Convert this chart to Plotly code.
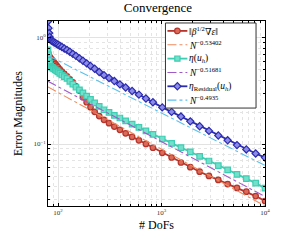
import numpy as np
import plotly.graph_objects as go

# Degrees of freedom (shared by the three estimator series)
dofs = [80, 81, 82, 83, 85, 87, 89, 91, 94, 97, 100, 104, 109, 115, 122, 130, 139, 149,
        161, 174, 189, 206, 226, 250, 278, 311, 350, 396, 450, 520, 605, 707, 826, 1017,
        1252, 1541, 1897, 2335, 2874, 3538, 4355, 5361, 6599, 8123, 10000]

energy_error = [0.691, 0.682, 0.670, 0.660, 0.641, 0.623, 0.605, 0.588, 0.567, 0.547, 0.527,
                0.503, 0.481, 0.457, 0.432, 0.406, 0.381, 0.349, 0.318, 0.276, 0.247, 0.222,
                0.201, 0.183, 0.169, 0.157, 0.146, 0.136, 0.126, 0.1167, 0.1084, 0.1002,
                0.0922, 0.0827, 0.0747, 0.0670, 0.0606, 0.0549, 0.0501, 0.0459, 0.0420,
                0.0386, 0.0356, 0.0324, 0.0291]

eta_est = [0.769, 0.691, 0.613, 0.574, 0.538, 0.526, 0.517, 0.510, 0.499, 0.487, 0.476,
           0.462, 0.446, 0.430, 0.414, 0.389, 0.365, 0.342, 0.323, 0.303, 0.282, 0.263,
           0.2435, 0.226, 0.210, 0.198, 0.186, 0.1756, 0.1654, 0.154, 0.1432, 0.1329,
           0.1234, 0.1115, 0.1013, 0.0924, 0.0845, 0.0765, 0.0692, 0.0626, 0.0572, 0.0518,
           0.0473, 0.0429, 0.0384]

eta_residual = [1.429, 1.230, 1.106, 1.015, 0.952, 0.936, 0.922, 0.908, 0.891, 0.874, 0.859,
                0.839, 0.818, 0.792, 0.767, 0.738, 0.705, 0.675, 0.639, 0.607, 0.574, 0.542,
                0.510, 0.476, 0.444, 0.418, 0.391, 0.364, 0.340, 0.315, 0.291, 0.268, 0.247,
                0.221, 0.2004, 0.1813, 0.1633, 0.147, 0.1329, 0.1202, 0.1084, 0.0977,
                0.0889, 0.0814, 0.0746]

fit_exponents = [-0.53402, -0.51681, -0.4935]
fit_log10_coeff = [0.553, 0.573, 0.772]

x_tickvals = [100, 1000, 10000]
x_ticktext = ["10<sup>2</sup>", "10<sup>3</sup>", "10<sup>4</sup>"]
y_tickvals = [0.1, 1]
y_ticktext = ["10<sup>−1</sup>", "10<sup>0</sup>"]

series_names = ["‖<i>β</i><sup>1/2</sup>∇<i>ε</i>‖",
                "<i>η</i>(<i>u<sub>h</sub></i>)",
                "<i>η</i><sub>Residual</sub>(<i>u<sub>h</sub></i>)"]
fit_names = ["<i>N</i><sup>−0.53402</sup>",
             "<i>N</i><sup>−0.51681</sup>",
             "<i>N</i><sup>−0.4935</sup>"]

line_colors = ["#B5342B", "#3CCDB2", "#2B2BB0"]
fill_colors = ["#DB6A58", "#74E0CC", "#8C8CE6"]
marker_symbols = ["circle", "square", "diamond"]
fit_colors = ["#F08A5D", "#A05AC8", "#5BC0F0"]

fig = go.Figure()
data = [energy_error, eta_est, eta_residual]
N = np.array(dofs, dtype=float)
for i in range(3):
    fig.add_trace(go.Scatter(
        x=dofs, y=data[i], mode="lines+markers", name=series_names[i], showlegend=False,
        line=dict(color=line_colors[i], width=1.8),
        marker=dict(symbol=marker_symbols[i], size=5.5,
                    color=fill_colors[i], line=dict(color=line_colors[i], width=1.2)),
    ))
    Nf = np.array([N[0], N[-1]])
    fig.add_trace(go.Scatter(
        x=Nf, y=10 ** fit_log10_coeff[i] * Nf ** fit_exponents[i], mode="lines",
        name=fit_names[i], showlegend=False,
        line=dict(color=fit_colors[i], width=1.1, dash="dashdot"),
    ))

# ---- legend box drawn in paper coordinates (layout only) ----
W, H = 282, 242
ML, MR, MT, MB = 48, 16, 21, 34
def px(xp):
    return (xp - ML) / (W - ML - MR)
def py(yp):
    return (H - MB - yp) / (H - MT - MB)

serif = "Liberation Serif, DejaVu Serif, serif"
shapes = [dict(type="rect", xref="paper", yref="paper", x0=px(166), x1=px(257),
               y0=py(109), y1=py(23), line=dict(color="#333", width=1),
               fillcolor="white", layer="above")]
annotations = []
row_y = [(31, 45), (59, 73), (87, 101)]
marker_paths = {
    "square": "M-2.6,-2.6 L2.6,-2.6 L2.6,2.6 L-2.6,2.6 Z",
    "diamond": "M0,-3.6 L3.6,0 L0,3.6 L-3.6,0 Z",
}
for i in range(3):
    y_main, y_fit = row_y[i]
    shapes.append(dict(type="line", xref="paper", yref="paper", x0=px(168), x1=px(188),
                       y0=py(y_main), y1=py(y_main),
                       line=dict(color=line_colors[i], width=1.8), layer="above"))
    if marker_symbols[i] == "circle":
        shapes.append(dict(type="circle", xref="paper", yref="paper",
                           xsizemode="pixel", ysizemode="pixel",
                           xanchor=px(178), yanchor=py(y_main),
                           x0=-2.8, x1=2.8, y0=-2.8, y1=2.8,
                           fillcolor=fill_colors[i],
                           line=dict(color=line_colors[i], width=1.2), layer="above"))
    else:
        shapes.append(dict(type="path", xref="paper", yref="paper",
                           xsizemode="pixel", ysizemode="pixel",
                           xanchor=px(178), yanchor=py(y_main),
                           path=marker_paths[marker_symbols[i]],
                           fillcolor=fill_colors[i],
                           line=dict(color=line_colors[i], width=1.2), layer="above"))
    shapes.append(dict(type="line", xref="paper", yref="paper", x0=px(168), x1=px(188),
                       y0=py(y_fit), y1=py(y_fit),
                       line=dict(color=fit_colors[i], width=1.1, dash="dashdot"),
                       layer="above"))
    annotations.append(dict(text=series_names[i], xref="paper", yref="paper",
                            x=px(189), y=py(y_main), xanchor="left", yanchor="middle",
                            showarrow=False, borderpad=0,
                            font=dict(family=serif, size=9.5, color="black")))
    annotations.append(dict(text=fit_names[i], xref="paper", yref="paper",
                            x=px(189), y=py(y_fit), xanchor="left", yanchor="middle",
                            showarrow=False, borderpad=0,
                            font=dict(family=serif, size=9.5, color="black")))

axis_common = dict(
    type="log", showline=True, linecolor="black", linewidth=1, mirror="ticks",
    ticks="inside", ticklen=3, tickcolor="black",
    showgrid=True, gridcolor="#E2E2E2", gridwidth=1, zeroline=False,
    tickfont=dict(family=serif, size=7, color="#333"),
    minor=dict(ticks="inside", ticklen=2, tickcolor="black", showgrid=True,
               gridcolor="#E4E4E4", griddash="dot", dtick="D1"),
)

fig.update_layout(
    width=W, height=H,
    margin=dict(l=ML, r=MR, t=MT, b=MB),
    paper_bgcolor="white", plot_bgcolor="white",
    title=dict(text="Convergence", x=0.56, xanchor="center", y=0.99, yanchor="top",
               font=dict(family=serif, size=13, color="black")),
    xaxis=dict(axis_common, range=[np.log10(80), 4.0],
               tickmode="array", tickvals=x_tickvals, ticktext=x_ticktext,
               title=dict(text="# DoFs", font=dict(family=serif, size=12, color="black"),
                          standoff=4)),
    yaxis=dict(axis_common, range=[-1.583, 0.157],
               tickmode="array", tickvals=y_tickvals, ticktext=y_ticktext,
               title=dict(text="Error Magnitudes", font=dict(family=serif, size=12, color="black"),
                          standoff=8)),
    shapes=shapes,
    annotations=annotations,
    showlegend=False,
)

fig.write_html("out.html", config={"displayModeBar": False},
               post_script="document.body.style.margin='0';")
